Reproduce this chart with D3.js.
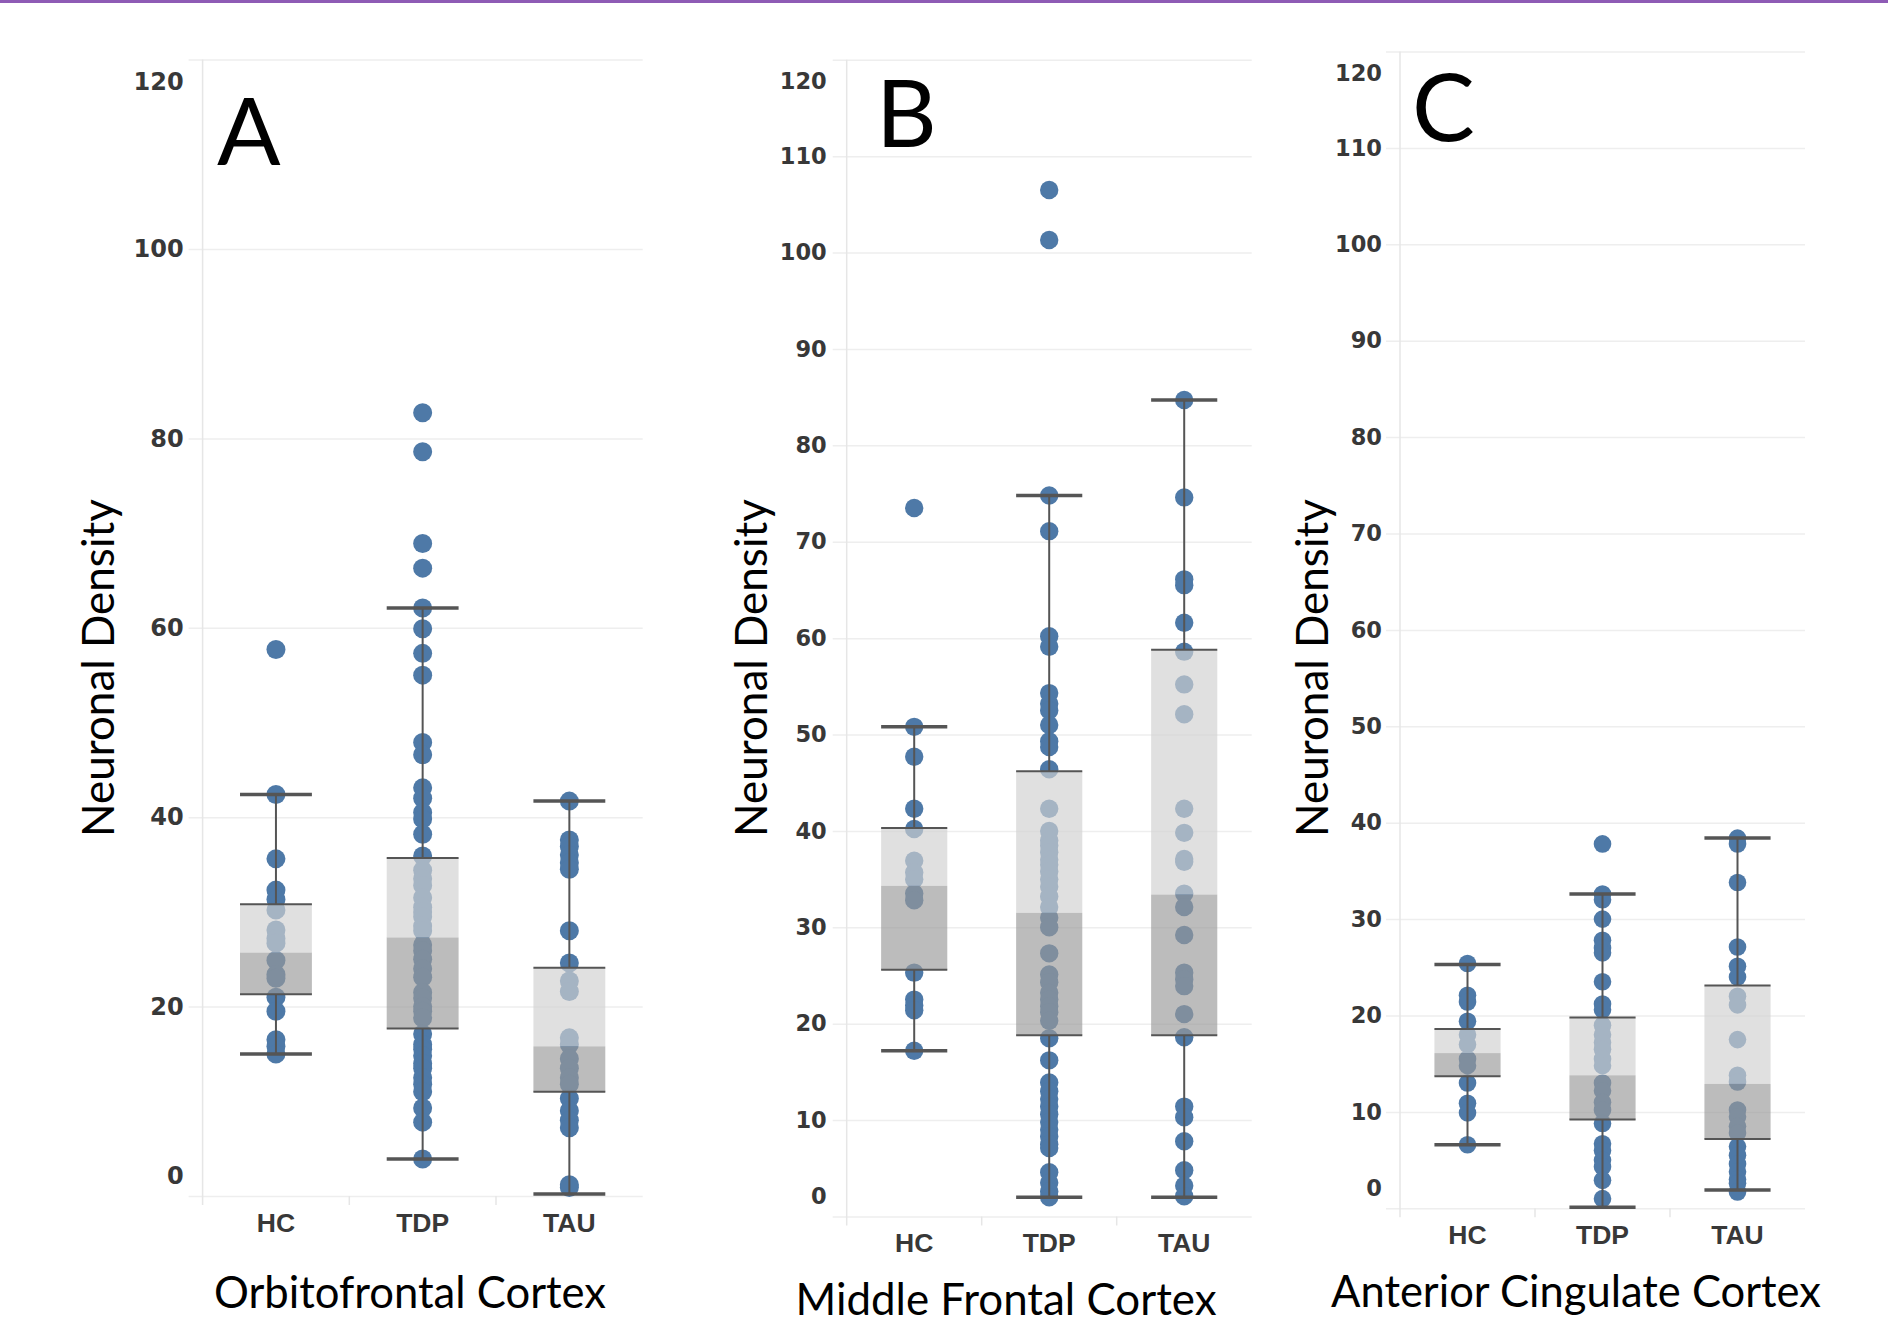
<!DOCTYPE html>
<html>
<head>
<meta charset="utf-8">
<script src="https://cdn.jsdelivr.net/npm/d3@7"></script>
<style>
  html, body { margin: 0; padding: 0; background: #fff; }
  svg { display: block; }
</style>
</head>
<body>
<svg id="chart" width="1888" height="1326"></svg>
<script>
// ---- data ----
const groups = ["HC", "TDP", "TAU"];
const yTitle = "Neuronal Density";
const panelLetters = ["A", "B", "C"];
const regionNames = ["Orbitofrontal Cortex", "Middle Frontal Cortex", "Anterior Cingulate Cortex"];

const ticksOFC = [0, 20, 40, 60, 80, 100, 120];
const ticksMFC = [0, 10, 20, 30, 40, 50, 60, 70, 80, 90, 100, 110, 120];
const ticksACC = [0, 10, 20, 30, 40, 50, 60, 70, 80, 90, 100, 110, 120];

// Orbitofrontal cortex
const ofcHC = [57.7, 42.4, 35.6, 32.3, 31.3, 30.2, 28.1, 27.2, 26.7, 24.9, 23.4, 23.0, 21.0, 19.5, 16.5, 15.8, 15.0];
const ofcTDP = [82.7, 78.6, 68.9, 66.3, 62.1, 59.9, 57.3, 55.0, 47.9, 46.6, 43.1, 42.0, 40.5, 39.8, 38.2, 35.9,
                34.4, 33.5, 32.8, 31.5, 30.5, 30.0, 29.5, 28.5, 28.0, 26.5, 25.9, 25.0, 24.0, 23.1, 21.5, 20.9,
                20.0, 19.5, 18.8, 17.1, 16.0, 15.5, 14.8, 14.0, 13.5, 12.5, 11.8, 11.0, 9.3, 7.8, 3.9];
const ofcTAU = [41.7, 37.6, 36.9, 36.0, 35.2, 34.5, 28.0, 24.6, 22.7, 21.6, 16.7, 16.0, 14.5, 13.5, 12.5, 11.8,
                10.3, 9.0, 8.0, 7.2, 1.2, 0.9];
// [lower whisker, Q1, median, Q3, upper whisker] for HC, TDP, TAU
const ofcBoxes = [[15.0, 21.3, 25.7, 30.8, 42.4], [3.9, 17.7, 27.3, 35.7, 62.1], [0.2, 11.0, 15.8, 24.1, 41.7]];

// Middle frontal cortex
const mfcHC = [73.5, 50.8, 47.7, 42.3, 40.2, 36.9, 35.7, 35.0, 33.5, 32.8, 25.3, 22.5, 21.9, 21.4, 17.2];
const mfcTDP = [106.5, 101.3, 74.8, 71.1, 60.2, 59.1, 54.3, 53.2, 52.5, 51.0, 49.3, 48.7, 46.4, 42.3, 40.0, 39.0,
                38.5, 37.8, 37.0, 36.5, 35.8, 35.0, 34.2, 33.2, 32.1, 31.0, 30.0, 27.3, 25.1, 24.3, 23.2, 22.5,
                21.8, 21.2, 20.3, 18.5, 16.2, 13.9, 13.0, 12.2, 11.4, 10.6, 9.8, 9.0, 8.3, 7.5, 7.1, 4.6, 3.5,
                2.6, 2.0];
const mfcTAU = [84.7, 74.6, 66.1, 65.5, 61.6, 58.6, 55.2, 52.1, 42.3, 39.8, 37.1, 36.8, 33.5, 32.1, 29.2, 25.3,
                24.6, 23.9, 21.0, 18.6, 11.4, 10.3, 7.8, 4.8, 3.2, 2.1];
const mfcBoxes = [[17.2, 25.6, 34.3, 40.3, 50.8], [2.0, 18.8, 31.5, 46.2, 74.8], [2.0, 18.8, 33.4, 58.8, 84.7]];

// Anterior cingulate cortex
const accHC = [25.4, 22.1, 21.4, 19.4, 18.0, 17.0, 15.5, 14.8, 13.0, 10.9, 9.9, 6.6];
const accTDP = [37.8, 32.6, 32.0, 30.0, 27.8, 27.0, 26.5, 23.5, 21.2, 20.6, 19.0, 18.0, 17.2, 16.5, 15.5, 14.8,
                13.0, 12.2, 11.0, 10.2, 8.8, 6.7, 6.0, 5.0, 4.3, 2.9, 1.0];
const accTAU = [38.4, 37.8, 33.8, 27.1, 25.1, 24.0, 22.0, 21.1, 17.5, 13.8, 13.1, 10.2, 9.5, 8.5, 7.8, 6.4, 5.5,
                4.6, 3.8, 3.0, 2.6, 1.7];
const accBoxes = [[6.6, 13.7, 16.1, 18.6, 25.3], [0.1, 9.2, 13.8, 19.8, 32.6], [1.9, 7.2, 12.9, 23.1, 38.4]];

// ---- layout of the three panels (pixels) ----
const panels = [
  { letter: panelLetters[0], region: regionNames[0], ticks: ticksOFC,
    points: [ofcHC, ofcTDP, ofcTAU], boxes: ofcBoxes,
    x0: 202.6, x1: 642.7, yTop: 59.6, yBottom: 1196, r: 9.5, tickFont: 24, labelPad: 5,
    catDy: 27, titleX: 114, letterX: 217, letterY: 165, regionX: 410, regionY: 1308, regionW: 392 },
  { letter: panelLetters[1], region: regionNames[1], ticks: ticksMFC,
    points: [mfcHC, mfcTDP, mfcTAU], boxes: mfcBoxes,
    x0: 846.7, x1: 1251.7, yTop: 59.8, yBottom: 1216.5, r: 9.2, tickFont: 22.5, labelPad: 6,
    catDy: 26, titleX: 767, letterX: 876, letterY: 147, regionX: 1006, regionY: 1315, regionW: 421 },
  { letter: panelLetters[2], region: regionNames[2], ticks: ticksACC,
    points: [accHC, accTDP, accTAU], boxes: accBoxes,
    x0: 1400, x1: 1805, yTop: 51.5, yBottom: 1208.3, r: 8.8, tickFont: 22.5, labelPad: 4,
    catDy: 26, titleX: 1328, letterX: 1412, letterY: 141, regionX: 1576, regionY: 1307, regionW: 490 }
];

const svg = d3.select("#chart");

// purple rule along the top edge
svg.append("rect").attr("x", 0).attr("y", 0).attr("width", 1888).attr("height", 3).attr("fill", "#8e5bb5");

panels.forEach(function(p) {
  const x = d3.scaleBand().domain(groups).range([p.x0, p.x1]);
  const y = d3.scaleLinear().domain([0, 120]).range([p.yBottom, p.yTop]);
  const bw = x.bandwidth();
  const boxW = bw * 0.49;
  const cx = function(c) { return x(c) + bw / 2; };
  const g = svg.append("g");

  // gridlines + value labels
  const yAxis = g.append("g")
      .attr("transform", "translate(" + (p.x0 - 14) + ",0)")
      .call(d3.axisLeft(y)
        .tickValues(p.ticks)
        .tickSize(-(p.x1 - p.x0 + 14))
        .tickPadding(p.labelPad)
        .tickFormat(d3.format("d")));
  yAxis.select(".domain").remove();
  yAxis.attr("font-family", "'DejaVu Sans', sans-serif")
       .attr("font-size", p.tickFont)
       .attr("font-weight", "bold");
  yAxis.selectAll(".tick line").attr("stroke", "#eeeeee").attr("stroke-width", 1.5);
  // tableau keeps the end labels inside the pane
  yAxis.selectAll(".tick text")
      .attr("fill", "#383838")
      .attr("y", function(d) { return d === 120 ? 22 : (d === 0 ? -20 : 0); });

  // left axis line and category separators
  g.append("line")
      .attr("x1", p.x0).attr("x2", p.x0)
      .attr("y1", p.yTop).attr("y2", p.yBottom + 9)
      .attr("stroke", "#e6e6e6").attr("stroke-width", 1.5);
  g.selectAll(".sep")
    .data(groups.slice(1))
    .enter().append("line")
      .attr("x1", function(c) { return x(c); }).attr("x2", function(c) { return x(c); })
      .attr("y1", p.yBottom).attr("y2", p.yBottom + 9)
      .attr("stroke", "#e6e6e6").attr("stroke-width", 1.5);

  // points
  groups.forEach(function(c, i) {
    g.selectAll(".pt" + i)
      .data(p.points[i])
      .enter().append("circle")
        .attr("cx", cx(c))
        .attr("cy", function(d) { return y(d); })
        .attr("r", p.r)
        .attr("fill", "#4e79a7");
  });

  // boxes drawn over the points
  groups.forEach(function(c, i) {
    const s = p.boxes[i];
    const lo = s[0], q1 = s[1], med = s[2], q3 = s[3], hi = s[4];
    const left = cx(c) - boxW / 2;

    g.append("rect")
        .attr("x", left).attr("width", boxW)
        .attr("y", y(q3)).attr("height", y(med) - y(q3))
        .attr("fill", "#d1d1d1").attr("fill-opacity", 0.67);
    g.append("rect")
        .attr("x", left).attr("width", boxW)
        .attr("y", y(med)).attr("height", y(q1) - y(med))
        .attr("fill", "#999999").attr("fill-opacity", 0.655);

    // whiskers
    [[hi, q3], [q1, lo]].forEach(function(seg) {
      g.append("line")
          .attr("x1", cx(c)).attr("x2", cx(c))
          .attr("y1", y(seg[0])).attr("y2", y(seg[1]))
          .attr("stroke", "#555").attr("stroke-width", 2);
    });
    [hi, lo].forEach(function(v) {
      g.append("line")
          .attr("x1", left).attr("x2", left + boxW)
          .attr("y1", y(v)).attr("y2", y(v))
          .attr("stroke", "#555").attr("stroke-width", 3.5);
    });
    [q3, q1].forEach(function(v) {
      g.append("line")
          .attr("x1", left).attr("x2", left + boxW)
          .attr("y1", y(v)).attr("y2", y(v))
          .attr("stroke", "#555").attr("stroke-width", 2);
    });
  });

  // category labels
  g.selectAll(".cat")
    .data(groups)
    .enter().append("text")
      .attr("x", function(c) { return cx(c); })
      .attr("y", p.yBottom + p.catDy)
      .attr("dy", "0.35em")
      .attr("text-anchor", "middle")
      .attr("font-family", "'Liberation Sans', Arial, sans-serif")
      .attr("font-weight", "bold")
      .attr("font-size", 26.5)
      .attr("fill", "#383838")
      .text(function(c) { return c; });

  // y title
  g.append("text")
      .attr("transform", "translate(" + p.titleX + ",668) rotate(-90)")
      .attr("text-anchor", "middle")
      .attr("font-family", "Lato, 'Open Sans', sans-serif")
      .attr("font-size", 44)
      .attr("fill", "#000")
      .text(yTitle);

  // panel letter
  g.append("text")
      .attr("x", p.letterX).attr("y", p.letterY)
      .attr("font-family", "Lato, 'Open Sans', sans-serif")
      .attr("font-size", 94)
      .attr("fill", "#000")
      .text(p.letter);

  // region name
  g.append("text")
      .attr("x", p.regionX).attr("y", p.regionY)
      .attr("text-anchor", "middle")
      .attr("font-family", "Lato, 'Open Sans', sans-serif")
      .attr("font-size", 44)
      .attr("textLength", p.regionW)
      .attr("lengthAdjust", "spacingAndGlyphs")
      .attr("fill", "#000")
      .text(p.region);
});
</script>
</body>
</html>
